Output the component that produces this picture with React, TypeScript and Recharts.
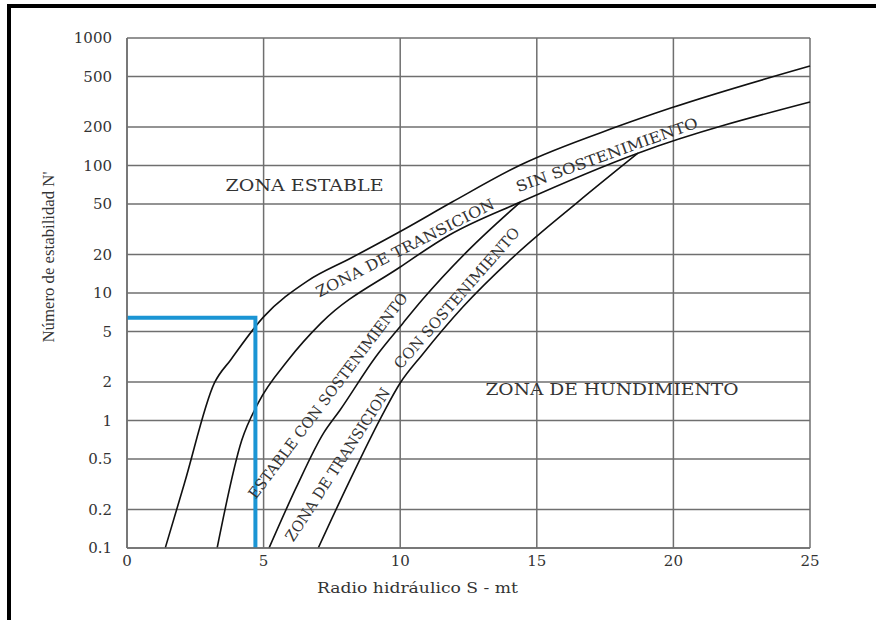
import { LineChart, Line, XAxis, YAxis, CartesianGrid, ReferenceDot } from "recharts";

const xTicks = [0, 5, 10, 15, 20, 25];
const yTicks = [0.1, 0.2, 0.5, 1, 2, 5, 10, 20, 50, 100, 200, 500, 1000];

// límite zona estable / zona de transición
const limEstableR = [1.4, 2.1, 3.2, 3.8, 5.0, 6.6, 8.2, 10.1, 11.9, 14.4, 17.9, 19.9, 25];
const limEstableN = [0.1, 0.32, 1.97, 3.0, 6.5, 12.4, 18.8, 31.2, 51.7, 101, 200, 282, 603];

// límite transición / estable sin sostenimiento
const limSinSostR = [3.3, 4.2, 4.8, 5.9, 7.1, 10.0, 11.8, 14.4, 18.7, 25];
const limSinSostN = [0.1, 0.7, 1.37, 2.98, 5.8, 16.0, 28.5, 51.7, 125, 315];

// límite estable con sostenimiento
const limConSostR = [5.2, 6.2, 7.2, 7.8, 9.1, 10.1, 10.8, 12.5, 14.4];
const limConSostN = [0.1, 0.3, 0.8, 1.21, 3.15, 5.8, 8.8, 21.7, 51.7];

// límite zona de hundimiento
const limHundR = [7.0, 8.1, 9.3, 10.0, 10.8, 12.3, 14.3, 16.5, 18.7];
const limHundN = [0.1, 0.32, 1.06, 1.97, 3.27, 7.8, 20.6, 51.7, 125];

// caso analizado (línea azul)
const casoR = [0, 4.7, 4.7];
const casoN = [6.4, 6.4, 0.1];

const toPoints = (r: number[], n: number[]) => r.map((x, i) => ({ x, y: n[i] }));

const serif = "'DejaVu Serif', serif";

function ZoneLabel(props: any) {
  const { viewBox, text, rot = 0, length, size = 15 } = props;
  const cx = viewBox.x + (viewBox.width || 0) / 2;
  const cy = viewBox.y + (viewBox.height || 0) / 2;
  return (
    <text
      x={cx}
      y={cy}
      transform={`rotate(${rot} ${cx} ${cy})`}
      textAnchor="middle"
      dominantBaseline="central"
      fontFamily={serif}
      fontSize={size}
      fill="#333"
      textLength={length}
      lengthAdjust="spacingAndGlyphs"
    >
      {text}
    </text>
  );
}

export default function App() {
  const curves = [
    toPoints(limEstableR, limEstableN),
    toPoints(limSinSostR, limSinSostN),
    toPoints(limConSostR, limConSostN),
    toPoints(limHundR, limHundN),
  ];

  return (
    <div
      style={{
        position: "absolute",
        left: 7,
        top: 4,
        width: 869,
        height: 616,
        boxSizing: "border-box",
        borderTop: "4px solid #000",
        borderLeft: "4px solid #000",
        background: "#fff",
      }}
    >
      <div style={{ position: "absolute", left: -3, top: 0 }}>
        <LineChart width={860} height={600} margin={{ top: 30, right: 58, left: 0, bottom: 0 }}>
          <CartesianGrid stroke="#6f6f6f" strokeWidth={1.5} />
          <XAxis
            dataKey="x"
            type="number"
            domain={[0, 25]}
            ticks={xTicks}
            height={60}
            tickLine={false}
            tickSize={0}
            tickMargin={7}
            axisLine={{ stroke: "#6f6f6f", strokeWidth: 1.5 }}
            tick={{ fontSize: 15, fill: "#333", fontFamily: serif }}
            label={(p: any) => {
              const vb = p.viewBox ?? { x: 119, y: 540, width: 683, height: 60 };
              return (
                <text
                  x={vb.x + vb.width / 2 - 51}
                  y={vb.y + 40}
                  textAnchor="middle"
                  dominantBaseline="central"
                  fontFamily={serif}
                  fontSize={15}
                  fill="#333"
                  textLength={201}
                  lengthAdjust="spacingAndGlyphs"
                >
                  Radio hidráulico S - mt
                </text>
              );
            }}
          />
          <YAxis
            type="number"
            scale="log"
            domain={[0.1, 1000]}
            allowDataOverflow
            ticks={yTicks}
            width={119}
            tickLine={false}
            tickSize={0}
            tickMargin={15}
            axisLine={{ stroke: "#6f6f6f", strokeWidth: 1.5 }}
            tick={{ fontSize: 15, fill: "#333", fontFamily: serif }}
            label={(p: any) => {
              const vb = p.viewBox ?? { x: 0, y: 30, width: 119, height: 510 };
              const cx = vb.x + 40;
              const cy = vb.y + 219;
              return (
                <text
                  x={cx}
                  y={cy}
                  transform={`rotate(-90 ${cx} ${cy})`}
                  textAnchor="middle"
                  dominantBaseline="central"
                  fontFamily="'Liberation Serif', serif"
                  fontSize={17}
                  fill="#333"
                  textLength={171}
                  lengthAdjust="spacingAndGlyphs"
                >
                  Número de estabilidad N'
                </text>
              );
            }}
          />
          {curves.map((d, i) => (
            <Line
              key={i}
              data={d}
              dataKey="y"
              type="monotoneX"
              stroke="#111"
              strokeWidth={1.6}
              dot={false}
              isAnimationActive={false}
            />
          ))}
          <Line
            data={toPoints(casoR, casoN)}
            dataKey="y"
            type="linear"
            stroke="#1b95d4"
            strokeWidth={4}
            dot={false}
            isAnimationActive={false}
          />
          <ReferenceDot x={6.5} y={70} r={0} ifOverflow="visible" label={<ZoneLabel text="ZONA ESTABLE" length={158} size={17} />} />
          <ReferenceDot x={17.75} y={1.77} r={0} ifOverflow="visible" label={<ZoneLabel text="ZONA DE HUNDIMIENTO" length={253} size={17} />} />
          <ReferenceDot x={10.18} y={22.5} r={0} ifOverflow="visible" label={<ZoneLabel text="ZONA DE TRANSICION" rot={-27} length={198} />} />
          <ReferenceDot x={17.57} y={121} r={0} ifOverflow="visible" label={<ZoneLabel text="SIN SOSTENIMIENTO" rot={-19.8} length={192} />} />
          <ReferenceDot x={7.36} y={1.56} r={0} ifOverflow="visible" label={<ZoneLabel text="ESTABLE CON SOSTENIMIENTO" rot={-52.9} length={253} />} />
          <ReferenceDot x={7.72} y={0.45} r={0} ifOverflow="visible" label={<ZoneLabel text="ZONA DE TRANSICION" rot={-57} length={179} />} />
          <ReferenceDot x={12.08} y={9.1} r={0} ifOverflow="visible" label={<ZoneLabel text="CON SOSTENIMIENTO" rot={-48.8} length={182} />} />
        </LineChart>
      </div>
    </div>
  );
}
